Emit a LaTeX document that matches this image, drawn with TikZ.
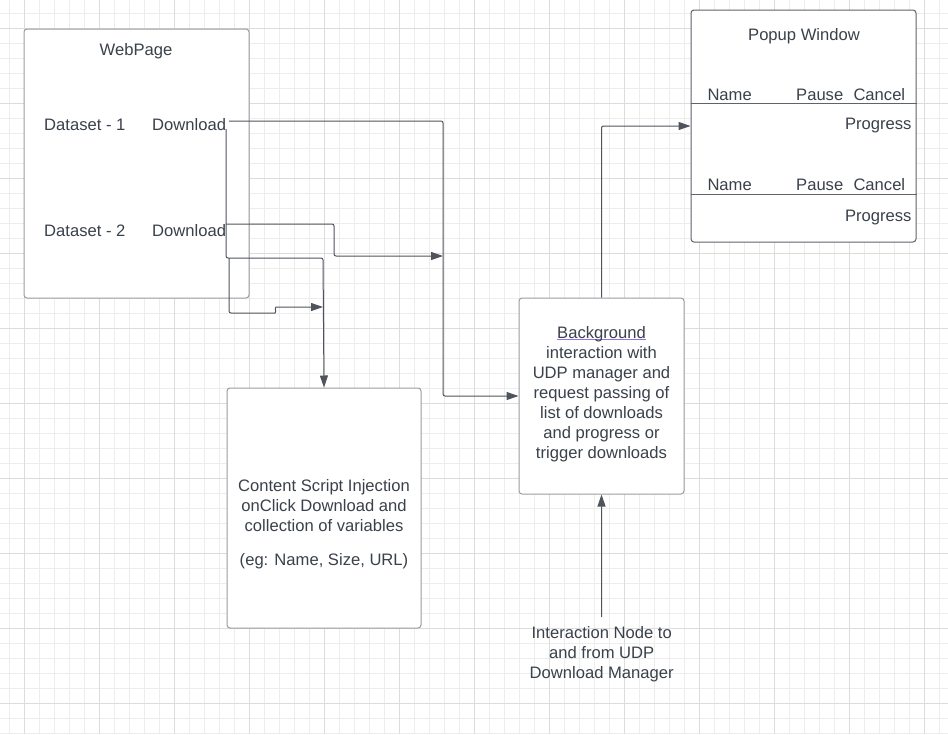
\documentclass[tikz,border=0pt]{standalone}
\usepackage{fontspec}
\setmainfont{Liberation Sans}
\usetikzlibrary{arrows.meta}
\definecolor{txt}{HTML}{3A414A}
\definecolor{gminor}{HTML}{EDEDED}
\definecolor{gmajor}{HTML}{DCDCDC}
\definecolor{boxc}{HTML}{9A9CA1}
\definecolor{popc}{HTML}{5F636A}
\definecolor{linec}{HTML}{4F545C}
\definecolor{ulc}{HTML}{8F73E6}
\newcommand{\ulpurple}[1]{\setbox0\hbox{#1}\rlap{\textcolor{ulc}{\rule[-1.4pt]{\wd0}{1pt}}}\box0}
\tikzset{
  minorline/.style={gminor, line width=1pt},
  majorline/.style={gmajor, line width=1pt},
  boxshape/.style={draw=boxc, fill=white, line width=1pt, rounded corners=3pt, inner sep=0pt},
  popshape/.style={draw=popc, fill=white, line width=1pt, rounded corners=3pt, inner sep=0pt},
  lbl/.style={text=txt, inner sep=0pt, font=\fontsize{16.6}{20}\selectfont},
  mlbl/.style={lbl, align=center},
  conn/.style={draw=linec, line width=1pt, rounded corners=2pt},
  arr/.style={conn, -{Triangle[length=12pt,width=8pt]}},
}
\begin{document}
\begin{tikzpicture}[x=1pt,y=-1pt]
\useasboundingbox (0,0) rectangle (948,734);
\fill[white] (0,0) rectangle (948,734);
% grid
\foreach \i in {0,...,62} \draw[minorline] ({9+15*\i},0) -- ({9+15*\i},734);
\foreach \j in {0,...,48} \draw[minorline] (0,{13+15*\j}) -- (948,{13+15*\j});
\foreach \i in {0,...,12} \draw[majorline] ({24+75*\i},0) -- ({24+75*\i},734);
\foreach \j in {0,...,9} \draw[majorline] (0,{28+75*\j}) -- (948,{28+75*\j});

% boxes
\node[boxshape, minimum width=225, minimum height=269] (web) at (136.5,163.5) {};
\node[popshape, minimum width=225, minimum height=232] (popup) at (803.5,126) {};
\node[boxshape, minimum width=165, minimum height=196] (bg) at (601.5,396) {};
\node[boxshape, minimum width=194, minimum height=240] (content) at (324,508) {};

% WebPage texts
\node[lbl, anchor=base] (webtitle) at (136,55.2) {WebPage};
\node[lbl, anchor=base west] (ds1) at (44,130.7) {Dataset - 1};
\node[lbl, anchor=base west] (dl1) at (152,130.7) {Download};
\node[lbl, anchor=base west] (ds2) at (44,236) {Dataset - 2};
\node[lbl, anchor=base west] (dl2) at (152,236) {Download};

% Popup texts
\node[lbl, anchor=base] (poptitle) at (804,40.2) {Popup Window};
\node[lbl, anchor=base west] (name1) at (707.3,100.7) {Name};
\node[lbl, anchor=base west] (pause1) at (796,100.7) {Pause};
\node[lbl, anchor=base west] (cancel1) at (853.3,100.7) {Cancel};
\node[lbl, anchor=base east] (prog1) at (911.7,129.2) {Progress};
\node[lbl, anchor=base west] (name2) at (707.3,190.3) {Name};
\node[lbl, anchor=base west] (pause2) at (796,190.3) {Pause};
\node[lbl, anchor=base west] (cancel2) at (853.3,190.3) {Cancel};
\node[lbl, anchor=base east] (prog2) at (911.7,221.2) {Progress};
\draw[draw=popc, line width=1pt] (popup.west |- 0,103) -- (popup.east |- 0,103);
\draw[draw=popc, line width=1pt] (popup.west |- 0,194) -- (popup.east |- 0,194);

% Background text
\node[mlbl, anchor=north] (bgtext) at (601.5,326.7) {\ulpurple{Background}\\interaction with\\UDP manager and\\request passing of\\list of downloads\\and progress or\\trigger downloads};

% Content text
\node[mlbl, anchor=north] (ctext) at (324,479) {Content Script Injection\\onClick Download and\\collection of variables\\[14pt](eg: Name, Size, URL)};

% Interaction text
\node[mlbl, anchor=north] (intr) at (601.7,626) {Interaction Node to\\and from UDP\\Download Manager};

% connector waypoints
\coordinate (d1out) at (229,121);
\coordinate (c443) at (443,300);
\coordinate (d2out) at (226,224);
\coordinate (c334) at (334,240);
\coordinate (end2) at (443,256);
\coordinate (d1down) at (226,129);
\coordinate (c323) at (323,258);
\coordinate (p4start) at (229,258);
\coordinate (p4a) at (229,313);
\coordinate (p4b) at (273,313);
\coordinate (p4c) at (278,307);
\coordinate (end4) at (323,307);

% connectors
\draw[arr] (d1out) -| (c443) |- (bg.west);
\draw[arr] (d2out) -| (c334) |- (end2);
\draw[arr] (d1down) |- (c323) -- (content.north);
\draw[arr] (p4start) -- (p4a) -- (p4b) .. controls (276.5,313) and (274.5,307) .. (p4c) -- (end4);
\draw[arr] (bg.north) |- (popup.west);
\draw[arr] ([yshift=9pt]intr.north) -- (bg.south);
\end{tikzpicture}
\end{document}
